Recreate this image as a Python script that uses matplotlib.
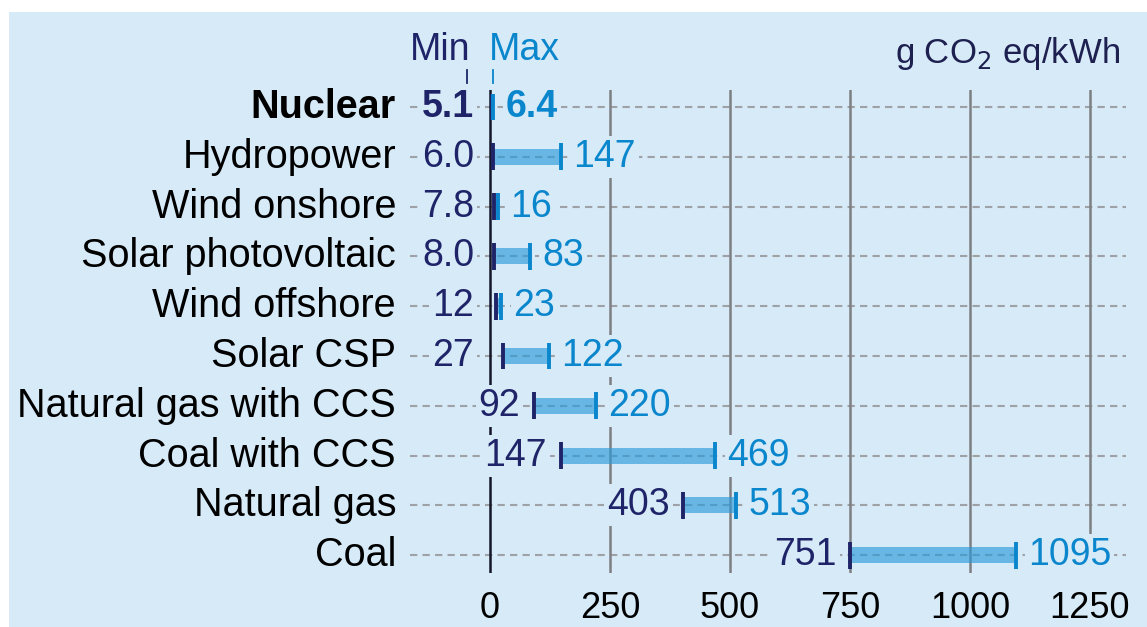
import matplotlib
matplotlib.use("Agg")
import matplotlib.pyplot as plt
from matplotlib.patches import Rectangle

# ------------------------------------------------------------
# data (g CO2 eq/kWh, life-cycle min / max)
# ------------------------------------------------------------
sources = ["Nuclear", "Hydropower", "Wind onshore", "Solar photovoltaic",
           "Wind offshore", "Solar CSP", "Natural gas with CCS",
           "Coal with CCS", "Natural gas", "Coal"]
min_vals = [5.1, 6.0, 7.8, 8.0, 12, 27, 92, 147, 403, 751]
max_vals = [6.4, 147, 16, 83, 23, 122, 220, 469, 513, 1095]
min_text = ["5.1", "6.0", "7.8", "8.0", "12", "27", "92", "147", "403", "751"]
max_text = ["6.4", "147", "16", "83", "23", "122", "220", "469", "513", "1095"]
xticks = [0, 250, 500, 750, 1000, 1250]

# colours
BG = "#d7eaf8"
NAVY = "#1f2468"
BLUE = "#0a86cd"
BAR = "#2b9ad8"
GRID = "#7d7f82"
DASH = "#9ea2a6"

W, H = 1147, 627
plt.rcParams["font.family"] = ["Liberation Sans", "DejaVu Sans"]

fig = plt.figure(figsize=(W / 100, H / 100), dpi=100)
fig.patches.append(Rectangle((9 / W, 0), 1, 1 - 12 / H, transform=fig.transFigure,
                             facecolor=BG, edgecolor="none", zorder=-5))

# axes box in pixels: left 410, right 1126, top 90, bottom 573
ax = fig.add_axes([410 / W, 1 - 573 / H, (1126 - 410) / W, (573 - 90) / H])
ax.patch.set_visible(False)
px_per_unit = 0.48
zero_px = 490
ax.set_xlim((410 - zero_px) / px_per_unit, (1126 - zero_px) / px_per_unit)
row0, row_step = 107, 49.8
ax.set_ylim((573 - row0) / row_step, (90 - row0) / row_step)
for s in ax.spines.values():
    s.set_visible(False)
ax.set_yticks([])
ax.set_xticks(xticks)
ax.set_xticklabels([str(t) for t in xticks], fontsize=26, color="black")
ax.tick_params(axis="x", length=0, pad=13)

rows = list(range(len(sources)))

# grid
ax.hlines(rows, ax.get_xlim()[0], ax.get_xlim()[1], colors=DASH,
          linewidth=1.5, linestyles=(0, (3.5, 2.5)), zorder=1)
for t in xticks[1:]:
    ax.axvline(t, color=GRID, linewidth=1.8, zorder=1)
ax.axvline(0, color="#15152a", linewidth=1.8, zorder=1)

# range bars and end markers
ax.barh(rows, [b - a for a, b in zip(min_vals, max_vals)], left=min_vals,
        height=0.32, color=BAR, alpha=0.65, zorder=3)
ax.vlines(min_vals, [r - 0.27 for r in rows], [r + 0.27 for r in rows],
          colors=NAVY, linewidth=2.8, zorder=4)
ax.vlines(max_vals, [r - 0.27 for r in rows], [r + 0.27 for r in rows],
          colors=BLUE, linewidth=2.8, zorder=4)

box = dict(boxstyle="square,pad=0.08", facecolor=BG, edgecolor="none")
for i, name in enumerate(sources):
    weight = "bold" if name == "Nuclear" else "normal"
    ax.annotate(name, xy=(396, i), xycoords=("figure pixels", "data"),
                ha="right", va="center", fontsize=28.5, color="black",
                fontweight=weight, annotation_clip=False)
    if min_vals[i] < 50:
        ax.annotate(min_text[i], xy=(0, i), xytext=(-11.5, 0), textcoords="offset points",
                    ha="right", va="center", fontsize=27, color=NAVY,
                    fontweight=weight, bbox=box, zorder=5)
    else:
        ax.annotate(min_text[i], xy=(min_vals[i], i), xytext=(-10, 0), textcoords="offset points",
                    ha="right", va="center", fontsize=27, color=NAVY,
                    fontweight=weight, bbox=box, zorder=5)
    ax.annotate(max_text[i], xy=(max_vals[i], i), xytext=(9, 0), textcoords="offset points",
                ha="left", va="center", fontsize=27, color=BLUE,
                fontweight=weight, bbox=box, zorder=5)

# header
fig.text(470 / W, 1 - 50 / H, "Min", ha="right", va="center", fontsize=27, color=NAVY)
fig.text(489 / W, 1 - 50 / H, "Max", ha="left", va="center", fontsize=27, color=BLUE)
fig.add_artist(plt.Line2D([467 / W, 467 / W], [1 - 70 / H, 1 - 83 / H], color=NAVY, linewidth=1.3))
fig.add_artist(plt.Line2D([493 / W, 493 / W], [1 - 70 / H, 1 - 83 / H], color=BLUE, linewidth=1.3))
fig.text(1120 / W, 1 - 54 / H, r"g CO$_2$ eq/kWh", ha="right", va="center",
         fontsize=25, color="#1e2050")

fig.savefig("out.png", dpi=100)
